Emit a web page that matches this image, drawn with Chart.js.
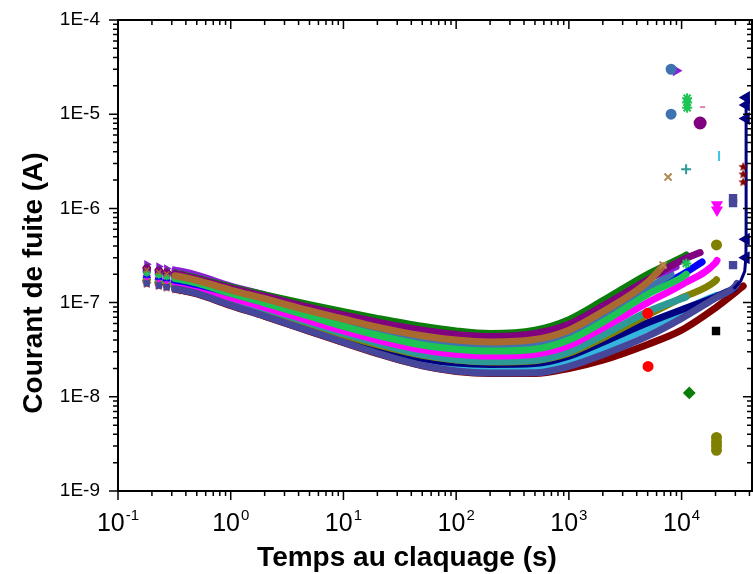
<!DOCTYPE html>
<html>
<head>
<meta charset="utf-8">
<script src="https://cdn.jsdelivr.net/npm/chart.js@4.4.1/dist/chart.umd.min.js"></script>
<style>
  body { margin: 0; background: #fff; }
  #wrap { width: 753px; height: 574px; overflow: hidden; }
</style>
</head>
<body>
<div id="wrap"><canvas id="leakChart" width="753" height="574"></canvas></div>
<script>
// sampling times (s) shared by all the curves
const times = [0.18, 0.23, 0.27, 0.32, 0.37, 0.5, 1, 2, 5, 10, 20, 50, 100, 200, 500, 1000, 2000, 5000, 10000, 20000, 30000];

// leakage current in nA for each sample, null after breakdown
const iWine    = [158, 150, 144, 138.5, 134.5, 123.5, 93, 71.5, 49.5, 37.5, 28.7, 21.3, 18.6, 17.7, 17.7, 20, 24.5, 36, 51, 88, 128];
const iCyan    = [165, 157, 151, 145, 140, 129, 98, 76, 53, 40, 31, 23.5, 21, 20.2, 20.5, 24.5, 33, 53, 80, 118, null];
const iNavy    = [170, 162, 156, 150, 145, 134, 102, 80, 56, 42, 33, 25.5, 22.8, 22.0, 22.5, 27, 38, 61, 84, 115, null];
const iOlive   = [176, 168, 161, 155, 150, 139, 106, 83, 59, 45, 35.5, 27.5, 24.5, 23.4, 24.2, 29, 42, 74, 112, 170, null];
const iTeal    = [180, 171, 164, 158, 153, 142, 109, 86, 61, 47, 37, 28, 24.8, 23.7, 24.5, 30, 45, 80, null, null, null];
const iMagenta = [186, 177, 170, 164, 159, 147, 113, 89, 64, 50, 40, 31.5, 28.3, 27.1, 28.3, 35, 54, 100, 155, 265, null];
const iBlue    = [195, 186, 179, 173, 168, 155, 126, 100, 73, 57, 46, 36, 32.5, 31, 32.5, 41, 64, 126, 196, null, null];
const iSteel   = [214, 203, 195, 188, 182, 168, 132, 106, 78, 62, 50, 40, 35.8, 34.2, 36, 45, 70, 140, null, null, null];
const iViolet  = [255, 241, 230, 221, 214, 196, 150, 121, 91, 76, 63, 52, 46.5, 44.2, 47.5, 60, 93, 178, null, null, null];
const iGreen   = [235, 222, 212, 204, 198, 182, 146, 121, 95, 80, 68, 56, 50, 47, 51, 66, 105, 200, 300, null, null];
const iPurple  = [230, 218, 208, 200, 194, 179, 142, 117, 89, 74, 62, 51, 46, 43.7, 47, 59, 92, 175, 280, null, null];
const iSlate   = [160, 152, 146, 140, 136, 125, 94, 72, 50, 38, 29, 21.5, 18.8, 17.9, 18, 21, 28, 44, 68, 112, 150];
const iLime    = [205, 195, 187, 180, 175, 161, 125, 99, 72, 56, 45, 35.5, 32, 30.6, 32, 40, 62, 122, 185, null, null];
const iBrown   = [222, 210, 201, 193, 187, 172, 136, 110, 82, 67, 55, 44.5, 40, 38.2, 40.5, 51, 80, 165, null, null, null];

// curves, first one is drawn on top, with the last point of each (time s, current nA)
const curveNames    = ['brown', 'lime', 'slate', 'purple', 'green', 'violet', 'steel', 'blue', 'magenta', 'teal', 'olive', 'navy', 'cyan', 'wine'];
const curveCurrents = [iBrown, iLime, iSlate, iPurple, iGreen, iViolet, iSteel, iBlue, iMagenta, iTeal, iOlive, iNavy, iCyan, iWine];
const endTimes      = [6850, 11000, 31000, 14600, 11000, 8940, 8070, 15200, 20600, 10970, 20400, 29000, 21500, 35200];
const endCurrents   = [245, 200, 160, 340, 320, 240, 200, 270, 280, 115, 175, 140, 120, 150];

// navy curve going up at breakdown
const navyTailT = [29000, 33500, 36300, 37200, 37300, 37300, 37350, 37400];
const navyTailI = [140, 170, 215, 300, 470, 9000, 12500, 15000];

// isolated points after breakdown (time s, current nA)
const breakRedT = [5040, 5000],            breakRedI = [21, 77];
const breakBlackT = [20200],               breakBlackI = [50];
const breakGreenT = [11700],               breakGreenI = [11];
const breakOliveT = [20400, 20400, 20400, 20400, 20400], breakOliveI = [410, 3.7, 3.3, 3.0, 2.7];
const breakMagentaT = [20600, 20600],      breakMagentaI = [1090, 960];
const breakSlateT = [28600, 28600, 28600], breakSlateI = [250, 1140, 1280];
const breakWineT = [35200, 35200, 35200],  breakWineI = [1900, 2300, 2760];
const breakCyanT = [21500],                breakCyanI = [3600];
const breakTealT = [10970],                breakTealI = [2600];
const breakBrownT = [7590, 6850],          breakBrownI = [2150, 250];
const breakLimeT = [11200, 11200, 11200, 11000], breakLimeI = [11700, 13300, 14800, 260];
const breakPinkT = [14600],                breakPinkI = [11900];
const breakSteelT = [8070, 8070],          breakSteelI = [10000, 30000];
const breakVioletT = [8940],               breakVioletI = [29000];
const breakPurpleT = [14600],              breakPurpleI = [8070];

// axis decades and labels
const xDecades = [0.1, 1, 10, 100, 1000, 10000];
const xExponents = ['-1', '0', '1', '2', '3', '4'];
const xMin = 0.1, xMax = 43000;
const yMin = 1e-9, yMax = 1e-4;

const nA = 1e-9;
const FONT = 'Liberation Sans, Arial, sans-serif';

// little filled star for the wine markers
function starCanvas(color, r) {
    const c = document.createElement('canvas');
    c.width = c.height = r * 2 + 2;
    const g = c.getContext('2d');
    g.fillStyle = color;
    g.beginPath();
    for (let k = 0; k < 10; k++) {
        const a = -Math.PI / 2 + k * Math.PI / 5;
        const rr = k % 2 === 0 ? r : r * 0.45;
        g.lineTo(r + 1 + rr * Math.cos(a), r + 1 + rr * Math.sin(a));
    }
    g.closePath();
    g.fill();
    return c;
}

const curveColors = {
    wine: '#800000', cyan: '#33b5dd', navy: '#000080', olive: '#808000', teal: '#2e9a96',
    magenta: '#ff00ff', blue: '#0000ff', steel: '#3f72b0', purple: '#800080', violet: '#8b1fd6',
    green: '#0b7d0b', slate: '#46469a', lime: '#1dc454', brown: '#a86a2e'
};
const curveMarkers = {
    wine: ['star', 0], cyan: ['line', 90], navy: ['triangle', -90], olive: ['circle', 0], teal: ['cross', 0],
    magenta: ['triangle', 180], blue: ['triangle', 0], steel: ['circle', 0], purple: ['circle', 0],
    violet: ['triangle', 90], green: ['rectRot', 0], slate: ['rect', 0], lime: ['star', 0], brown: ['crossRot', 0]
};
const wineStar = starCanvas('#800000', 5);

function curvePoints(cur, tEnd, iEnd) {
    const pts = [];
    times.forEach((t, k) => {
        if (cur[k] !== null && t < tEnd) pts.push({ x: t, y: cur[k] * nA });
    });
    pts.push({ x: tEnd, y: iEnd * nA });
    return pts;
}

function pairPoints(ts, is) {
    return ts.map((t, k) => ({ x: t, y: is[k] * nA }));
}

const datasets = [];

// Chart.js paints the first dataset last, so the lone points go first
const loneGroups = [
    [breakRedT, breakRedI, '#ff0000', 'circle', 0, 4.5],
    [breakBlackT, breakBlackI, '#000000', 'rect', 0, 4.5],
    [breakGreenT, breakGreenI, '#0b7d0b', 'rectRot', 0, 5],
    [breakOliveT, breakOliveI, '#808000', 'circle', 0, 4.5],
    [breakMagentaT, breakMagentaI, '#ff00ff', 'triangle', 180, 5],
    [breakSlateT, breakSlateI, '#46469a', 'rect', 0, 4.5],
    [breakWineT, breakWineI, '#800000', wineStar, 0, 5],
    [breakCyanT, breakCyanI, '#33c8e0', 'line', 90, 5],
    [breakTealT, breakTealI, '#2e9a96', 'cross', 0, 5],
    [breakBrownT, breakBrownI, '#b08850', 'crossRot', 0, 5],
    [breakLimeT, breakLimeI, '#1dc454', 'star', 0, 5],
    [breakPinkT, breakPinkI, '#e080b0', 'dash', 0, 5],
    [breakSteelT, breakSteelI, '#3f72b0', 'circle', 0, 4.5],
    [breakVioletT, breakVioletI, '#8b1fd6', 'triangle', 90, 4.5],
    [breakPurpleT, breakPurpleI, '#800080', 'circle', 0, 5.5]
];
loneGroups.forEach(g => {
    datasets.push({
        label: 'breakdown',
        data: pairPoints(g[0], g[1]),
        showLine: false,
        borderColor: g[2],
        backgroundColor: g[2],
        pointStyle: g[3],
        pointRotation: g[4],
        pointRadius: g[5],
        pointBorderWidth: 2
    });
});

datasets.push({
    label: 'navy breakdown',
    data: pairPoints(navyTailT, navyTailI),
    showLine: true,
    borderColor: '#000080',
    backgroundColor: '#000080',
    borderWidth: 3,
    tension: 0,
    pointStyle: 'triangle',
    pointRotation: -90,
    pointRadius: ctx => (ctx.raw && ctx.raw.y > 2.5e-7) ? 4.5 : 0
});

curveNames.forEach((name, k) => {
    const color = curveColors[name];
    const marker = curveMarkers[name];
    datasets.push({
        label: name,
        data: curvePoints(curveCurrents[k], endTimes[k], endCurrents[k]),
        showLine: true,
        borderColor: color,
        backgroundColor: color,
        borderWidth: 7,
        borderCapStyle: 'round',
        cubicInterpolationMode: 'monotone',
        pointStyle: name === 'wine' ? wineStar : marker[0],
        pointRotation: marker[1],
        pointBorderWidth: 1.5,
        pointBorderColor: color,
        pointRadius: ctx => (ctx.raw && ctx.raw.x < 0.4) ? 3.5 : 0,
        segment: {
            borderColor: ctx => ctx.p0.parsed.x < 0.3 ? 'rgba(0,0,0,0)' : undefined
        }
    });
});

// frame, ticks on four sides, x labels and axis titles
const axisFrame = {
    id: 'axisFrame',
    afterDraw(chart) {
        const { ctx, chartArea: a, scales: { x, y } } = chart;
        ctx.save();
        ctx.strokeStyle = '#000';
        ctx.lineWidth = 2;
        ctx.strokeRect(a.left, a.top, a.right - a.left - 1, a.bottom - a.top);

        ctx.lineWidth = 1.5;
        ctx.beginPath();
        for (let e = -1; e <= 4; e++) {
            for (let m = 1; m <= 9; m++) {
                const v = m * Math.pow(10, e);
                if (v > xMax) continue;
                const px = x.getPixelForValue(v);
                const len = m === 1 ? 9 : 5;
                ctx.moveTo(px, a.bottom); ctx.lineTo(px, a.bottom + len);
                ctx.moveTo(px, a.top); ctx.lineTo(px, a.top + len);
            }
        }
        for (let e = -9; e <= -4; e++) {
            for (let m = 1; m <= 9; m++) {
                const v = m * Math.pow(10, e);
                if (v > yMax * 1.0001) continue;
                const py = y.getPixelForValue(v);
                const len = m === 1 ? 9 : 5;
                ctx.moveTo(a.left, py); ctx.lineTo(a.left - len, py);
                ctx.moveTo(a.right - 1, py); ctx.lineTo(a.right - 1 - len, py);
            }
        }
        ctx.stroke();

        // x tick labels 10^n
        ctx.fillStyle = '#000';
        ctx.textBaseline = 'alphabetic';
        ctx.textAlign = 'left';
        xDecades.forEach((d, k) => {
            const px = x.getPixelForValue(d);
            ctx.font = '25px ' + FONT;
            const w1 = ctx.measureText('10').width;
            ctx.font = '15px ' + FONT;
            const w2 = ctx.measureText(xExponents[k]).width;
            const start = px - (w1 + w2 + 1) / 2;
            ctx.font = '25px ' + FONT;
            ctx.fillText('10', start, 531);
            ctx.font = '15px ' + FONT;
            ctx.fillText(xExponents[k], start + w1 + 1, 520);
        });

        // axis titles
        ctx.font = 'bold 28px ' + FONT;
        ctx.textAlign = 'center';
        ctx.fillText('Temps au claquage (s)', 407, 566);
        ctx.save();
        ctx.translate(42, 283);
        ctx.rotate(-Math.PI / 2);
        ctx.fillText('Courant de fuite (A)', 0, 0);
        ctx.restore();
        ctx.restore();
    }
};

const ctx = document.getElementById('leakChart').getContext('2d');

new Chart(ctx, {
    type: 'scatter',
    data: { datasets: datasets },
    options: {
        responsive: false,
        animation: false,
        events: [],
        layout: { autoPadding: false, padding: { top: 20, right: 0, left: 0, bottom: 0 } },
        plugins: { legend: { display: false }, tooltip: { enabled: false } },
        scales: {
            x: {
                type: 'logarithmic',
                min: xMin,
                max: xMax,
                ticks: { display: false },
                grid: { display: false, drawTicks: false },
                border: { display: false },
                afterFit: s => { s.height = 83; }
            },
            y: {
                type: 'logarithmic',
                min: yMin,
                max: yMax,
                ticks: {
                    autoSkip: false,
                    padding: 18,
                    color: '#000',
                    font: { family: FONT, size: 19 },
                    callback: v => {
                        const e = Math.log10(v);
                        return Math.abs(e - Math.round(e)) < 1e-6 ? '1E' + Math.round(e) : '';
                    }
                },
                grid: { display: false, drawTicks: false },
                border: { display: false },
                afterFit: s => { s.width = 118; s.paddingTop = 0; s.paddingBottom = 0; }
            }
        }
    },
    plugins: [axisFrame]
});
</script>
</body>
</html>
